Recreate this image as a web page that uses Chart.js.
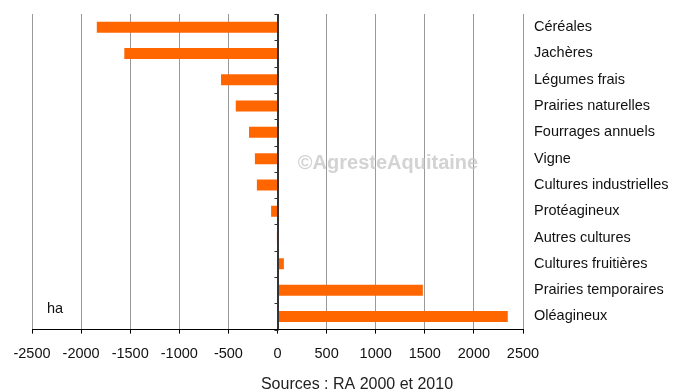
<!DOCTYPE html>
<html><head><meta charset="utf-8">
<script src="https://cdn.jsdelivr.net/npm/chart.js@4/dist/chart.umd.min.js"></script>
<style>html,body{margin:0;padding:0;background:#fff}#wrap{width:682px;height:391px}</style>
</head><body><div id="wrap"><canvas id="c"></canvas></div>
<script>
const categories = ["Céréales","Jachères","Légumes frais","Prairies naturelles","Fourrages annuels","Vigne","Cultures industrielles","Protéagineux","Autres cultures","Cultures fruitières","Prairies temporaires","Oléagineux"];
const values = [-1840, -1560, -575, -425, -290, -230, -210, -65, -6, 65, 1480, 2345];
const xTicks = [-2500, -2000, -1500, -1000, -500, 0, 500, 1000, 1500, 2000, 2500];
const unitLabel = "ha";
const watermark = "©AgresteAquitaine";
const sourceText = "Sources : RA 2000 et 2010";

const FONT = "'Liberation Sans', Arial, sans-serif";

const extras = {
  id: 'extras',
  afterDatasetsDraw(chart) {
    const ctx = chart.ctx, xs = chart.scales.x, ys = chart.scales.y, a = chart.chartArea;
    const x0 = Math.round(xs.getPixelForValue(0)) + 0.5;
    ctx.save();
    ctx.strokeStyle = '#333';
    ctx.lineWidth = 1;
    ctx.beginPath();
    ctx.moveTo(x0, a.top); ctx.lineTo(x0, a.bottom);
    const n = categories.length;
    for (let i = 0; i <= n; i++) {
      const y = Math.round(ys.getPixelForValue(i - 0.5)) + 0.5;
      ctx.moveTo(x0 - 4, y); ctx.lineTo(x0, y);
    }
    ctx.stroke();
    // watermark
    ctx.font = "bold 20px " + FONT;
    ctx.fillStyle = 'rgba(200,200,200,0.8)';
    ctx.textAlign = 'center';
    ctx.textBaseline = 'middle';
    ctx.fillText(watermark, 388, 163);
    // unit
    ctx.font = "14.5px " + FONT;
    ctx.fillStyle = '#111';
    ctx.textAlign = 'left';
    ctx.fillText(unitLabel, 47, 309);
    ctx.restore();
  }
};

new Chart(document.getElementById('c'), {
  type: 'bar',
  data: {
    labels: categories,
    datasets: [{ data: values, backgroundColor: '#FF6600', borderWidth: 0, categoryPercentage: 1, barPercentage: 0.42 }]
  },
  options: {
    indexAxis: 'y',
    responsive: true,
    maintainAspectRatio: false,
    animation: false,
    layout: { padding: { left: 32, top: 14, right: 0, bottom: 0 } },
    plugins: {
      legend: { display: false },
      tooltip: { enabled: false },
      title: { display: true, position: 'bottom', text: sourceText, color: '#222', font: { family: FONT, size: 16, weight: 'normal', lineHeight: 0.8 }, padding: { top: 3.2, bottom: 0 } }
    },
    scales: {
      x: {
        min: -2500, max: 2500,
        afterBuildTicks(s) { s.ticks = xTicks.map(v => ({ value: v })); },
        ticks: { callback: v => String(v), color: '#111', font: { family: FONT, size: 14.5 }, padding: 12, maxRotation: 0, autoSkip: false },
        grid: { color: ctx => (ctx.tick && ctx.tick.value === 0) ? '#333' : '#999', tickColor: '#000', tickLength: 4, lineWidth: 1 },
        border: { display: true, color: '#000', width: 1 }
      },
      y: {
        position: 'right',
        afterFit(s) { s.width = 159; },
        ticks: { color: '#111', font: { family: FONT, size: 14.5 }, padding: 3, crossAlign: 'near' },
        grid: { display: false },
        border: { display: false }
      }
    }
  },
  plugins: [extras]
});
</script></body></html>
